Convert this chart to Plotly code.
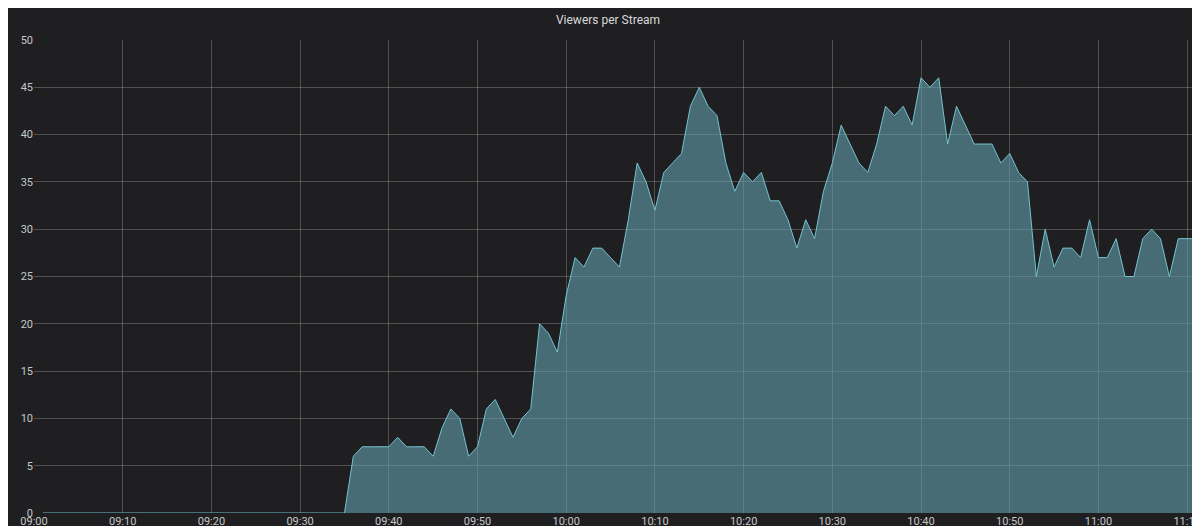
import pandas as pd
import plotly.graph_objs as go

# minute-by-minute viewer counts, 09:01 .. 11:11
zeros = [0] * 35  # 09:01 .. 09:35
ramp = [6, 7, 7, 7, 7, 8, 7, 7, 7, 6, 9, 11, 10, 6, 7, 11, 12, 10, 8, 10,
        11, 20, 19, 17, 23]  # 09:36 .. 10:00
mid = [27, 26, 28, 28, 27, 26, 31, 37, 35, 32, 36, 37, 38, 43, 45, 43, 42,
       37, 34, 36, 35, 36, 33, 33, 31, 28, 31, 29, 34, 37, 41, 39, 37, 36,
       39, 43, 42, 43, 41, 46]  # 10:01 .. 10:40
late = [45, 46, 39, 43, 41, 39, 39, 39, 37, 38, 36, 35, 25, 30, 26, 28, 28,
        27, 31, 27, 27, 29, 25, 25, 29, 30, 29, 25, 29, 29, 29]  # 10:41 .. 11:11
viewers = zeros + ramp + mid + late
times = pd.date_range("2020-01-01 09:01", periods=len(viewers), freq="min")

tick_vals = pd.date_range("2020-01-01 09:00", "2020-01-01 11:10", freq="10min")
tick_text = [t.strftime("%H:%M") for t in tick_vals]

fig = go.Figure()
fig.add_trace(
    go.Scatter(
        x=times,
        y=viewers,
        mode="lines",
        fill="tozeroy",
        fillcolor="rgba(100,160,175,0.6)",
        line=dict(color="#73c3d0", width=1),
        showlegend=False,
    )
)

grid = "rgba(255,255,255,0.22)"
fig.update_layout(
    title=dict(text="Viewers per Stream", x=0.5, y=0.985, yref="container",
               xanchor="center", yanchor="top", automargin=False,
               font=dict(size=12, color="#d8d9da", family="Roboto")),
    paper_bgcolor="#1f1f21",
    plot_bgcolor="#1f1f21",
    width=1200,
    height=526,
    margin=dict(l=26, r=12, t=32, b=21, autoexpand=False),
    font=dict(family="Roboto", size=11, color="#c7c7c7"),
)
fig.update_xaxes(
    range=["2020-01-01 09:00", "2020-01-01 11:11"],
    tickvals=tick_vals, ticktext=tick_text,
    showgrid=True, gridcolor=grid, gridwidth=1, automargin=False,
    ticklabeloverflow="allow",
    zeroline=False, showline=False, ticks="", ticklen=0,
)
fig.update_yaxes(
    range=[0, 50], dtick=5,
    showgrid=True, gridcolor=grid, gridwidth=1, automargin=False,
    zeroline=False, showline=False,
)

fig.write_html("out.html")
